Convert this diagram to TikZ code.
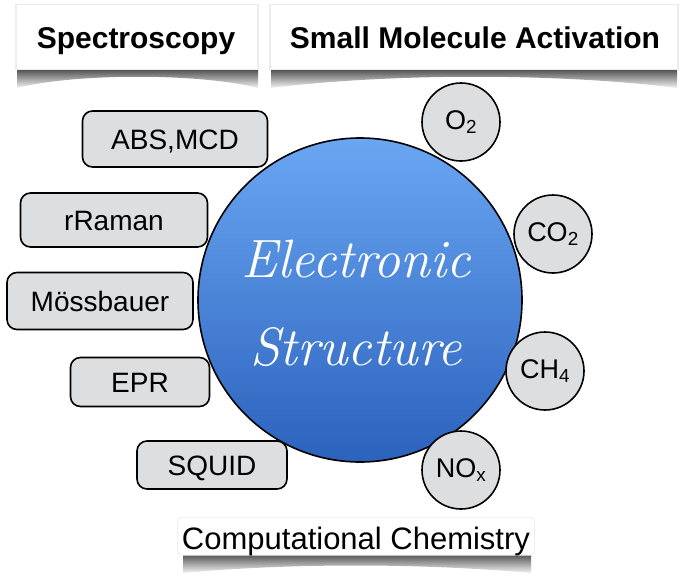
\documentclass[tikz,border=0pt]{standalone}
\usepackage{fontspec}
\newfontfamily\helv{Liberation Sans}
\definecolor{boxgray}{HTML}{DDDEE0}
\definecolor{estop}{HTML}{6AA6F2}
\definecolor{esbot}{HTML}{2B62BD}
\tikzset{
  tech/.style={draw, line width=1.6pt, rounded corners=10pt, fill=boxgray,
    inner sep=0pt, text height=20pt, text depth=0pt,
    font=\helv\fontsize{28}{30}\selectfont},
  mol/.style={draw, line width=1.6pt, circle, fill=boxgray, inner sep=0pt,
    minimum size=78pt, font=\helv\fontsize{27}{30}\selectfont},
  head/.style={fill=white, draw=black!7, line width=1.2pt, inner sep=0pt,
    text height=21.5pt, text depth=0pt,
    font=\helv\bfseries\fontsize{30}{32}\selectfont}
}
\begin{document}
\begin{tikzpicture}[x=1pt,y=-1pt]
\useasboundingbox (0,0) rectangle (684,586);
% headers with curled shadow
\shade[top color=black!70, bottom color=black!4] (17,69) -- (258,69) -- (258,88)
  .. controls (200,73) and (75,73) .. (17,88) -- cycle;
\shade[top color=black!70, bottom color=black!4] (271,69) -- (677,69) -- (677,88)
  .. controls (560,73) and (390,73) .. (271,88) -- cycle;
\node[head, minimum width=242pt, minimum height=65pt] (spec) at (137,37) {};
\node[head, draw=none, fill=none] at (136,38) {Spectroscopy};
\node[head, minimum width=408pt, minimum height=65pt] (sma) at (474,37) {};
\node[head, draw=none, fill=none] at (475,38) {Small Molecule Activation};
% big disk
\node[circle, draw, line width=1.6pt, minimum size=324pt, top color=estop,
  bottom color=esbot] (es) at (360,300) {};
\node[align=center, text=white, font=\itshape\fontsize{54}{88}\selectfont]
  at (356,303) {Electronic\\Structure};
% spectroscopy methods
\node[tech, minimum width=185pt, minimum height=56pt] (abs) at (175,139) {ABS,MCD};
\node[tech, minimum width=187pt, minimum height=54pt] (rr) at (114,220) {rRaman};
\node[tech, minimum width=186pt, minimum height=57pt] (moss) at (100,301) {Mössbauer};
\node[tech, minimum width=139pt, minimum height=49pt] (epr) at (140,382) {EPR};
\node[tech, minimum width=150pt, minimum height=48pt] (squid) at (212,465) {SQUID};
% small molecules
\node[mol] (o2) at (461,122) {O\textsubscript{2}};
\node[mol] (co2) at (553,234) {CO\textsubscript{2}};
\node[mol] (ch4) at (545,371) {CH\textsubscript{4}};
\node[mol] (nox) at (461,470) {NO\textsubscript{x}};
% computational chemistry
\shade[top color=black!65, bottom color=black!4] (183,555) -- (531,555) -- (531,573)
  .. controls (420,563) and (290,563) .. (183,573) -- cycle;
\node[fill=white, draw=black!6, line width=1pt, rounded corners=4pt, inner sep=0pt,
  minimum width=357pt, minimum height=38pt] (cc) at (356,536) {};
\node[font=\helv\fontsize{31}{33}\selectfont, text height=22pt, text depth=0pt]
  at (356,538) {Computational Chemistry};
\end{tikzpicture}
\end{document}
